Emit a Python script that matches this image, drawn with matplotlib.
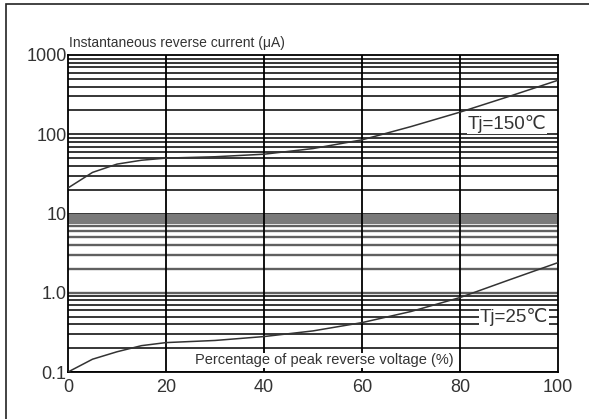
import numpy as np
import matplotlib.pyplot as plt
from matplotlib.patches import Rectangle

# percentage of peak reverse voltage
pct = [0, 5, 10, 15, 20, 30, 40, 50, 60, 70, 80, 90, 100]
# instantaneous reverse current (uA)
ir_150 = [21, 33, 42, 47, 50, 52, 56, 66, 85, 125, 190, 300, 480]
ir_25 = [0.1, 0.145, 0.18, 0.215, 0.235, 0.25, 0.28, 0.33, 0.42, 0.58, 0.87, 1.45, 2.4]

xticks = [0, 20, 40, 60, 80, 100]
yticks = [0.1, 1, 10, 100, 1000]
ytick_labels = ["0.1", "1.0", "10", "100", "1000"]

plt.rcParams['font.family'] = ['Liberation Sans', 'DejaVu Sans']

fig = plt.figure(figsize=(5.89, 4.19), dpi=100)
ax = fig.add_axes([68 / 589, 1 - 372 / 419, 490 / 589, 317 / 419])

# grid: the 1..10 decade prints grey and heavier in the original
for k in range(-1, 3):
    for m in range(1, 10):
        if k == 0:
            ax.axhline(m * 10.0 ** k, color='#606060', lw=1.7, zorder=1)
        else:
            ax.axhline(m * 10.0 ** k, color='black', lw=1.1, zorder=1)
ax.axhspan(7.4, 10, color='#7a7a7a', lw=0, zorder=1)
for x in xticks[1:-1]:
    ax.axvline(x, color='black', lw=1.3, zorder=2)

ax.plot(pct, ir_150, color='#333333', lw=1.1, zorder=3)
ax.plot(pct, ir_25, color='#333333', lw=1.1, zorder=3)

ax.set_yscale('log')
ax.set_xlim(0, 100)
ax.set_ylim(0.1, 1000)
ax.set_xticks(xticks)
ax.set_xticklabels([str(x) for x in xticks])
ax.set_yticks(yticks)
ax.set_yticklabels(ytick_labels)
ax.yaxis.set_minor_locator(plt.NullLocator())
ax.tick_params(length=0, labelsize=13, colors='#333333')
ax.tick_params(axis='y', pad=1)
ax.tick_params(axis='x', pad=5)
for s in ax.spines.values():
    s.set_linewidth(1.3)

ax.text(81.5, 135, "Tj=150\u2103", fontsize=13.5, color='#333333', va='center',
        bbox=dict(facecolor='white', edgecolor='none', pad=0.5), zorder=4)
ax.text(84, 0.5, "Tj=25\u2103", fontsize=13.5, color='#333333', va='center',
        bbox=dict(facecolor='white', edgecolor='none', pad=0.5), zorder=4)
ax.text(52.4, 0.14, "Percentage of peak reverse voltage (%)", fontsize=10.5,
        color='#333333', ha='center', va='center',
        bbox=dict(facecolor='white', edgecolor='none', pad=0.5), zorder=4)

fig.text(69 / 589, 1 - 43 / 419, "Instantaneous reverse current (\u03bcA)",
         fontsize=10, color='#333333', va='center')

# outer frame
fig.patches.append(Rectangle((6 / 589, -0.1), 1.2, 1.1 - 4.5 / 419, transform=fig.transFigure,
                             fill=False, edgecolor='#222222', lw=1.2))

fig.savefig("out.png", dpi=100)
